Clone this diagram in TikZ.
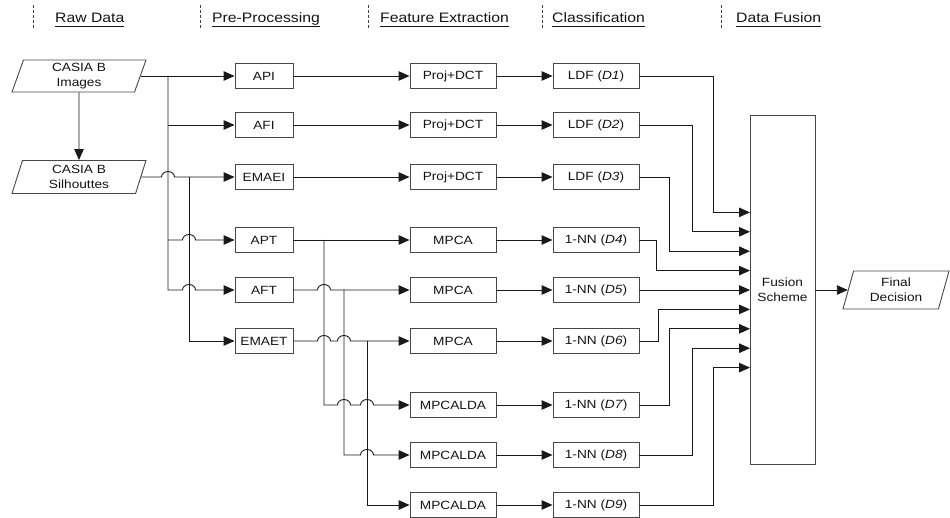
\documentclass[tikz,border=0pt]{standalone}
\usepackage{fontspec}
\setmainfont{Liberation Sans}[FakeStretch=1.15]
\usetikzlibrary{arrows.meta,shapes.geometric,calc}
% underline at a fixed depth below the baseline
\newcommand\hdul[1]{\setbox0\hbox{#1}\rlap{\vrule width\wd0 height -3.0pt depth 3.9pt}\box0}
\begin{document}
\begin{tikzpicture}[x=1pt,y=-1pt,
  every node/.style={text=black!92},
  line/.style={draw=black!90, line width=0.9pt},
  arr/.style={line, -{Triangle[length=11pt,width=9.5pt]}},
  hdash/.style={draw=black!75, line width=0.9pt, dash pattern=on 3pt off 2pt},
  box/.style={draw=black!72, line width=0.9pt, inner sep=0pt, minimum height=25pt,
              font=\fontsize{11.9}{15}\selectfont, align=center},
  prebox/.style={box, minimum width=58pt},
  featbox/.style={box, minimum width=86pt},
  clsbox/.style={box, minimum width=86pt},
  para/.style={trapezium, trapezium left angle=66, trapezium right angle=114,
               trapezium stretches body, draw=black!72, line width=0.9pt,
               inner sep=0pt, align=center, font=\fontsize{11.9}{15}\selectfont},
  head/.style={anchor=base west, inner sep=0pt, font=\fontsize{13.7}{16}\selectfont},
  jumpat/.style args={#1/#2}{insert path={-- ({#1-6.5},#2)
      arc[start angle=180,end angle=0,x radius=6.5pt,y radius=5.5pt]}}
]
\useasboundingbox (0,0) rectangle (950,518);

% column headings
\foreach \x in {33,200,368,542,721} \draw[hdash] (\x,5) -- (\x,30);
\node[head] (h1) at (55,22.7)  {\hdul{Raw Data}};
\node[head] (h2) at (212,22.7) {\hdul{Pre-Processing}};
\node[head] (h3) at (380,22.7) {\hdul{Feature Extraction}};
\node[head] (h4) at (552,22.7) {\hdul{Classification}};
\node[head] (h5) at (736,22.7) {\hdul{Data Fusion}};

% raw data
\node[para, minimum width=134pt, minimum height=32pt] (img) at (79,76)  {CASIA B\\Images};
\node[para, minimum width=134pt, minimum height=33pt] (sil) at (79,177) {CASIA B\\Silhouttes};

% pre-processing
\node[prebox] (api)   at (264,76)  {API};
\node[prebox] (afi)   at (264,125) {AFI};
\node[prebox] (emaei) at (264,177) {EMAEI};
\node[prebox] (apt)   at (264,240) {APT};
\node[prebox] (aft)   at (264,290) {AFT};
\node[prebox] (emaet) at (264,341) {EMAET};

% feature extraction
\node[featbox] (f1) at (453,76)  {Proj+DCT};
\node[featbox] (f2) at (453,125) {Proj+DCT};
\node[featbox] (f3) at (453,177) {Proj+DCT};
\node[featbox] (f4) at (453,240) {MPCA};
\node[featbox] (f5) at (453,290) {MPCA};
\node[featbox] (f6) at (453,341) {MPCA};
\node[featbox] (f7) at (453,405) {MPCALDA};
\node[featbox] (f8) at (453,455) {MPCALDA};
\node[featbox] (f9) at (453,505) {MPCALDA};

% classification
\node[clsbox] (c1) at (596,76)  {LDF (\textit{D1})};
\node[clsbox] (c2) at (596,125) {LDF (\textit{D2})};
\node[clsbox] (c3) at (596,177) {LDF (\textit{D3})};
\node[clsbox] (c4) at (596,240) {1-NN (\textit{D4})};
\node[clsbox] (c5) at (596,290) {1-NN (\textit{D5})};
\node[clsbox] (c6) at (596,341) {1-NN (\textit{D6})};
\node[clsbox] (c7) at (596,405) {1-NN (\textit{D7})};
\node[clsbox] (c8) at (596,455) {1-NN (\textit{D8})};
\node[clsbox] (c9) at (596,505) {1-NN (\textit{D9})};

% fusion and decision
\node[box, minimum width=65pt, minimum height=349pt] (fus) at (782.5,290) {Fusion\\Scheme};
\node[para, minimum width=106pt, minimum height=38pt] (fd) at (896,290) {Final\\Decision};

% branch points
\coordinate (ja) at (168,76);
\coordinate (jb) at (189,177);
\coordinate (ka) at (324,240);
\coordinate (kb) at (344,290);
\coordinate (kc) at (367,341);
\foreach \i in {1,...,9} \coordinate (in\i) at (750,{290+(\i-5)*19.4});

% raw data -> pre-processing
\draw[arr] (img.south) -- (sil.north);
\draw[arr] (img.right side) -- (api.west);
\draw[arr] (ja |- afi.west) -- (afi.west);
\draw[arr] (ja |- apt.west) [jumpat=189/240] -- (apt.west);
\draw[arr] (ja) -- (ja |- aft.west) [jumpat=189/290] -- (aft.west);
\draw[arr] (sil.right side) [jumpat=168/177] -- (emaei.west);
\draw[arr] (jb) |- (emaet.west);

% pre-processing -> feature extraction
\draw[arr] (api.east) -- (f1.west);
\draw[arr] (afi.east) -- (f2.west);
\draw[arr] (emaei.east) -- (f3.west);
\draw[arr] (apt.east) -- (f4.west);
\draw[arr] (aft.east) [jumpat=324/290] -- (f5.west);
\draw[arr] (emaet.east) [jumpat=324/341] [jumpat=344/341] -- (f6.west);
\draw[arr] (ka) -- (ka |- f7.west) [jumpat=344/405] [jumpat=367/405] -- (f7.west);
\draw[arr] (kb) -- (kb |- f8.west) [jumpat=367/455] -- (f8.west);
\draw[arr] (kc) |- (f9.west);

% feature extraction -> classification
\foreach \i in {1,...,9} \draw[arr] (f\i.east) -- (c\i.west);

% classification -> fusion
\draw[arr] (c1.east) -- ++(74,0) |- (in1);
\draw[arr] (c2.east) -- ++(53,0) |- (in2);
\draw[arr] (c3.east) -- ++(30,0) |- (in3);
\draw[arr] (c4.east) -- ++(17,0) |- (in4);
\draw[arr] (c5.east) -- (in5);
\draw[arr] (c6.east) -- ++(19,0) |- (in6);
\draw[arr] (c7.east) -- ++(30,0) |- (in7);
\draw[arr] (c8.east) -- ++(53,0) |- (in8);
\draw[arr] (c9.east) -- ++(74,0) |- (in9);

% fusion -> decision
\draw[arr] (fus.east) -- (fd.left side);
\end{tikzpicture}
\end{document}
